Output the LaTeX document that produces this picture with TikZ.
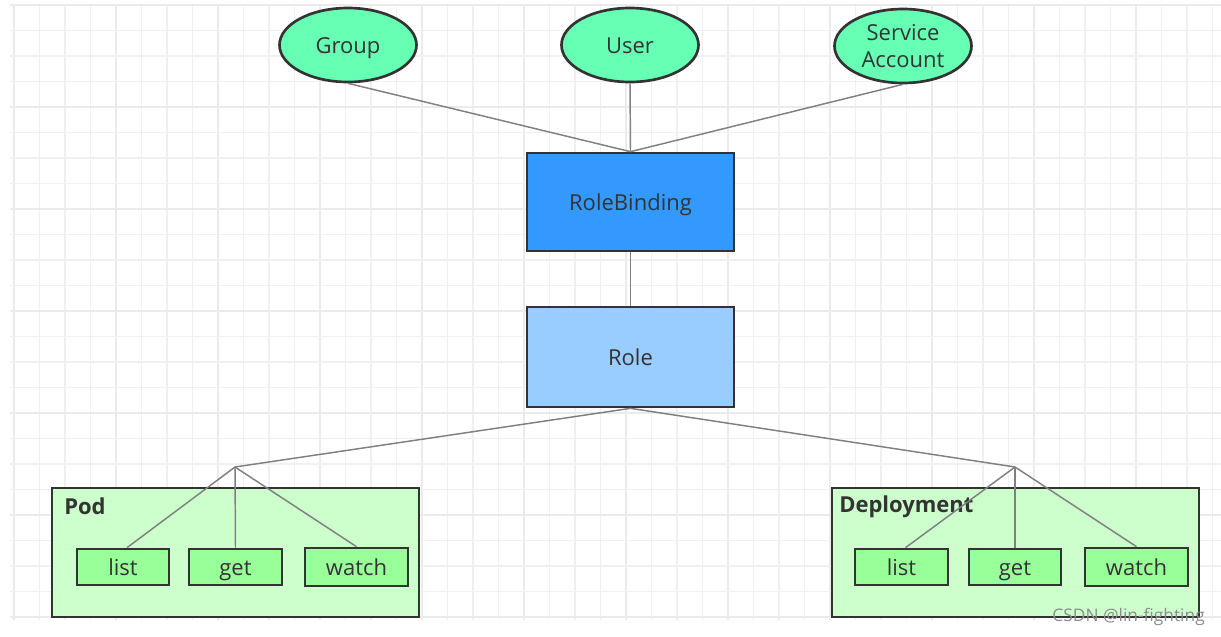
\documentclass[tikz,border=0pt]{standalone}
\usepackage{fontspec}
\setmainfont{Open Sans}
\usetikzlibrary{shapes.geometric}
\definecolor{txt}{HTML}{333333}
\definecolor{bord}{HTML}{333333}
\definecolor{conn}{HTML}{808080}
\definecolor{mint}{HTML}{66FFB3}
\definecolor{rbblue}{HTML}{3399FF}
\definecolor{roleblue}{HTML}{99CCFF}
\definecolor{contgreen}{HTML}{CCFFCC}
\definecolor{verbgreen}{HTML}{99FF99}
\definecolor{gridminor}{HTML}{F0F0F0}
\definecolor{gridmajor}{HTML}{EBEBEB}
\tikzset{
  lbl/.style={text=txt, font=\fontsize{16.5pt}{20pt}\selectfont},
  lowtext/.style={text height=16.5pt, text depth=3.5pt},
  subject/.style={ellipse, draw=bord, line width=2pt, fill=mint, lbl,
    minimum width=102.75pt, minimum height=55.5pt, inner sep=0pt, align=center},
  bigbox/.style={rectangle, draw=bord, line width=2pt, lbl, lowtext,
    minimum width=155.25pt, inner sep=0pt},
  container/.style={rectangle, draw=bord, line width=2pt, fill=contgreen,
    minimum width=275.25pt, minimum height=96.75pt, inner sep=0pt},
  contlabel/.style={anchor=west, text=txt, inner sep=0pt,
    font=\fontsize{16.5pt}{20pt}\selectfont\bfseries},
  verb/.style={rectangle, draw=bord, line width=2pt, fill=verbgreen, lbl, lowtext,
    minimum height=27pt, inner sep=0pt},
  link/.style={draw=conn, line width=1.1pt}
}
\begin{document}
\begin{tikzpicture}[x=0.75pt,y=-0.75pt]
\useasboundingbox (0,0) rectangle (1221,636);
% grid
\foreach \k in {0,...,47}{
  \pgfmathsetmacro{\gx}{14+25.5*\k}
  \pgfmathtruncatemacro{\m}{mod(\k,4)}
  \ifnum\m=0
    \draw[gridmajor, line width=1.2pt] (\gx,5) -- (\gx,620);
  \else
    \draw[gridminor, line width=0.8pt] (\gx,5) -- (\gx,620);
  \fi
}
\foreach \k in {0,...,24}{
  \pgfmathsetmacro{\gy}{5+25.5*\k}
  \pgfmathtruncatemacro{\m}{mod(\k,4)}
  \ifnum\m=0
    \draw[gridmajor, line width=1.2pt] (10,\gy) -- (1221,\gy);
  \else
    \draw[gridminor, line width=0.8pt] (10,\gy) -- (1221,\gy);
  \fi
}
% subjects
\node[subject, lowtext] (group) at (348,45) {Group};
\node[subject, lowtext] (user) at (630,45) {User};
\node[subject] (sa) at (903,46) {Service\\Account};
% binding and role
\node[bigbox, fill=rbblue, minimum height=73.5pt] (rb) at (630.5,202) {RoleBinding};
\node[bigbox, fill=roleblue, minimum height=75pt] (role) at (630.5,357) {Role};
% containers
\node[container] (pod) at (235.5,552.5) {};
\node[contlabel] (podlbl) at (64,506) {Pod};
\node[container] (dep) at (1015.5,552.5) {};
\node[contlabel] (deplbl) at (839,507) {Deployment};
% verbs
\node[verb, minimum width=69pt] (plist) at (123,567) {list};
\node[verb, minimum width=69.75pt] (pget) at (235.5,567) {get};
\node[verb, minimum width=77.25pt, minimum height=28.5pt] (pwatch) at (356.5,567) {watch};
\node[verb, minimum width=69.75pt] (dlist) at (901.5,567) {list};
\node[verb, minimum width=69pt] (dget) at (1015,567) {get};
\node[verb, minimum width=77.25pt, minimum height=28.5pt] (dwatch) at (1136.5,567) {watch};
% branch points
\coordinate (pb) at (235,467);
\coordinate (db) at (1015,467);
% connectors
\draw[link] (group.south) -- (rb.north);
\draw[link] (user.south) -- (rb.north);
\draw[link] (sa.south) -- (rb.north);
\draw[link] (rb.south) -- (role.north);
\draw[link] (role.south) -- (pb);
\draw[link] (role.south) -- (db);
\draw[link] (pb) -- ([xshift=3pt]plist.north);
\draw[link] (pb) -- (pget.north);
\draw[link] (pb) -- (pwatch.north);
\draw[link] (db) -- ([xshift=3pt]dlist.north);
\draw[link] (db) -- (dget.north);
\draw[link] (db) -- (dwatch.north);
% watermark
\node[text=black!45, anchor=east, inner sep=0pt, font=\fontsize{13pt}{15pt}\selectfont] (wm) at (1205,617) {CSDN @lin-fighting};
\end{tikzpicture}
\end{document}
